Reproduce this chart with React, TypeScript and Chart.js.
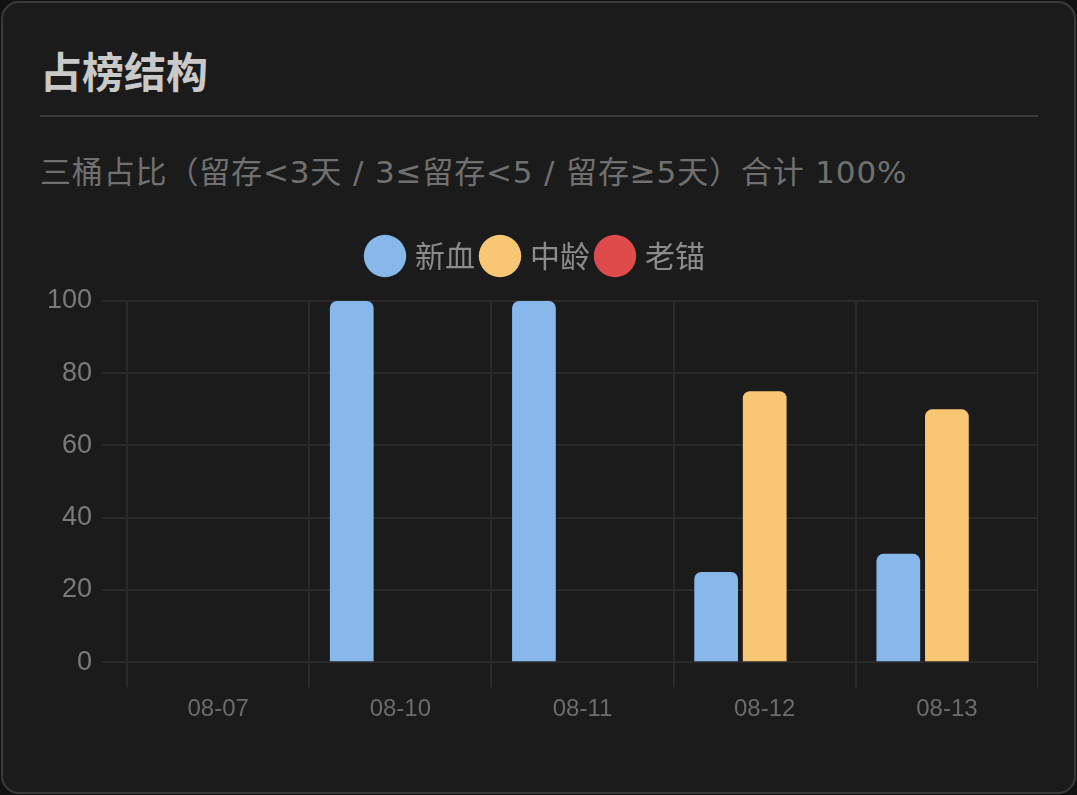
import { useEffect, useRef } from 'react';
import { Chart, registerables } from 'chart.js';

Chart.register(...registerables);

// Chart data
const DATES = ['08-07', '08-10', '08-11', '08-12', '08-13'];
const NEW_BLOOD = [0, 100, 100, 25, 30]; // 新血
const MIDDLE_AGE = [0, 0, 0, 75, 70]; // 中龄
const OLD_ANCHOR = [0, 0, 0, 0, 0]; // 老锚
const Y_TICKS = [0, 20, 40, 60, 80, 100];

const COLORS = {
  blue: '#87b7eb',
  orange: '#f9c774',
  red: '#df4a4a',
  grid: '#2a2a2a',
};

const TICK_FONT = '"Liberation Sans", Arial, sans-serif';
const CJK_FONT = '"Noto Sans CJK SC", "Noto Sans", sans-serif';
const MIXED_FONT = '"DejaVu Sans", "Noto Sans CJK SC", sans-serif';

// extra gap between the legend and the plot area
const legendMargin = {
  id: 'legendMargin',
  beforeInit(chart: any) {
    const fit = chart.legend.fit;
    chart.legend.fit = function () {
      fit.bind(chart.legend)();
      this.height += 20;
    };
  },
};

export default function App() {
  const chartRef = useRef<HTMLCanvasElement>(null);
  const chartInstance = useRef<Chart | null>(null);

  useEffect(() => {
    document.body.style.margin = '0';
    document.body.style.background = '#121212';
    if (!chartRef.current) return;
    const ctx = chartRef.current.getContext('2d');
    if (!ctx) return;

    chartInstance.current = new Chart(ctx, {
      type: 'bar',
      data: {
        labels: DATES,
        datasets: [
          { label: '新血', data: NEW_BLOOD, backgroundColor: COLORS.blue, borderRadius: 7, borderSkipped: 'bottom' },
          { label: '中龄', data: MIDDLE_AGE, backgroundColor: COLORS.orange, borderRadius: 7, borderSkipped: 'bottom' },
          { label: '老锚', data: OLD_ANCHOR, backgroundColor: COLORS.red, borderRadius: 7, borderSkipped: 'bottom' },
        ],
      },
      plugins: [legendMargin],
      options: {
        responsive: true,
        maintainAspectRatio: false,
        animation: false,
        plugins: {
          legend: {
            position: 'top',
            labels: {
              usePointStyle: true,
              pointStyle: 'circle',
              color: '#8c8c8c',
              padding: 10,
              font: { family: CJK_FONT, size: 30 },
            },
          },
          tooltip: { enabled: false },
        },
        scales: {
          x: {
            grid: { color: COLORS.grid, lineWidth: 2, tickLength: 25 },
            border: { color: COLORS.grid, width: 2 },
            ticks: { color: '#6c6c6c', padding: 8, font: { family: TICK_FONT, size: 24 } },
          },
          y: {
            min: 0,
            max: 100,
            afterBuildTicks: (axis) => {
              axis.ticks = Y_TICKS.map((v) => ({ value: v }));
            },
            grid: { color: COLORS.grid, lineWidth: 2, tickLength: 25 },
            border: { color: COLORS.grid, width: 2 },
            ticks: { color: '#7a7a7a', padding: 10, font: { family: TICK_FONT, size: 27 } },
          },
        },
      },
    });

    return () => {
      if (chartInstance.current) {
        chartInstance.current.destroy();
        chartInstance.current = null;
      }
    };
  }, []);

  return (
    <div
      style={{
        margin: 1,
        width: 1075,
        height: 793,
        boxSizing: 'border-box',
        border: '2px solid #3a3a3a',
        borderRadius: 18,
        background: '#1b1b1b',
        padding: '0 36px 0 37px',
        fontFamily: CJK_FONT,
      }}
    >
      <div
        style={{
          marginTop: 43,
          fontSize: 42,
          lineHeight: '48px',
          fontWeight: 700,
          color: '#c9c9c9',
          paddingBottom: 21,
          borderBottom: '2px solid #3a3a3a',
        }}
      >
        占榜结构
      </div>
      <div
        style={{
          marginTop: 37,
          fontSize: 31,
          lineHeight: '36px',
          color: '#707070',
          fontFamily: MIXED_FONT,
          letterSpacing: 0.85,
        }}
      >
        三桶占比（留存&lt;3天 / 3≤留存&lt;5 / 留存≥5天）合计 100%
      </div>
      <div style={{ position: 'relative', marginTop: 41, marginLeft: -3, height: 501 }}>
        <canvas ref={chartRef}></canvas>
      </div>
    </div>
  );
}
